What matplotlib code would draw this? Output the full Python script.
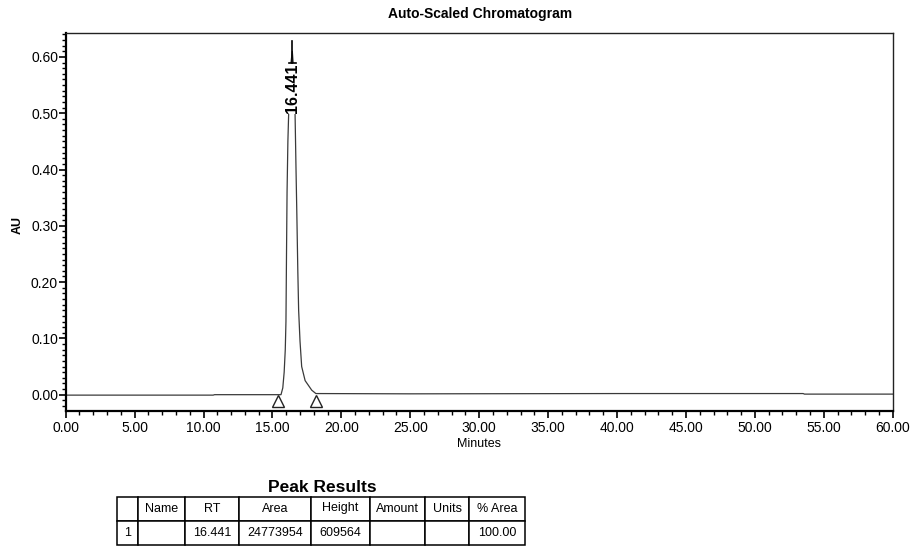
import matplotlib
matplotlib.use("Agg")
import matplotlib.pyplot as plt
from matplotlib.ticker import MultipleLocator, FormatStrFormatter

plt.rcParams['font.family'] = ['Liberation Sans', 'DejaVu Sans']

# ---- data ----
time_min = [0.00, 10.70, 10.80, 15.00, 15.62, 15.75, 15.85, 15.93, 15.98, 16.02,
            16.06, 16.12, 16.20, 16.30, 16.44, 16.56, 16.64, 16.71, 16.77, 16.84,
            16.90, 17.00, 17.12, 17.37, 17.85, 18.15, 25.00, 40.00, 53.50, 53.60, 60.00]
absorb_au = [-0.0008, -0.0008, 0.000, 0.000, 0.000, 0.012, 0.040, 0.080, 0.130, 0.250,
             0.360, 0.450, 0.520, 0.580, 0.610, 0.570, 0.500, 0.400, 0.320, 0.220,
             0.150, 0.095, 0.050, 0.025, 0.008, 0.002, 0.0015, 0.002, 0.002, 0.001, 0.001]

peak_rt = 16.441
peak_label = "16.441"
integ_start = 15.43
integ_end = 18.16
marker_level = -0.0113

x_ticks = [0, 5, 10, 15, 20, 25, 30, 35, 40, 45, 50, 55, 60]
y_ticks = [0.0, 0.1, 0.2, 0.3, 0.4, 0.5, 0.6]

table_headers = ["", "Name", "RT", "Area", "Height", "Amount", "Units", "% Area"]
table_row = ["1", "", "16.441", "24773954", "609564", "", "", "100.00"]
table_col_px = [21, 47, 54, 72, 59, 55, 44, 56]

# ---- figure ----
W, H = 912, 546
fig = plt.figure(figsize=(W / 100, H / 100), dpi=100)
fig.patch.set_facecolor('white')

ax = fig.add_axes([65.7 / W, 1 - 411 / H, 827 / W, (411 - 33.3) / H])
ax.plot(time_min, absorb_au, color='#3a3a3a', lw=0.9, zorder=2)
ax.plot([integ_start, integ_end], [marker_level, marker_level], linestyle='none',
        marker='^', markersize=9, markerfacecolor='white', markeredgecolor='#222222',
        markeredgewidth=1.0, zorder=3)

ax.set_xlim(0, 60)
ax.set_ylim(-0.029, 0.642)
ax.set_xticks(x_ticks)
ax.set_yticks(y_ticks)
ax.xaxis.set_major_formatter(FormatStrFormatter('%.2f'))
ax.yaxis.set_major_formatter(FormatStrFormatter('%.2f'))
ax.xaxis.set_minor_locator(MultipleLocator(1))
ax.yaxis.set_minor_locator(MultipleLocator(0.01))
ax.tick_params(which='major', length=5, width=1.2, labelsize=10, pad=2, colors='black')
ax.tick_params(which='minor', length=3, width=1.0)
ax.tick_params(axis='y', which='major', pad=0.5)
for s in ['left', 'bottom']:
    ax.spines[s].set_linewidth(1.6)
for s in ['top', 'right']:
    ax.spines[s].set_linewidth(1.0)
    ax.spines[s].set_color('#222222')

# peak label with white background masking the top of the peak
txt_bottom = 0.500
ax.text(peak_rt, txt_bottom, peak_label, rotation=90, ha='center', va='bottom',
        fontsize=11.5, fontweight='bold', color='black', zorder=4,
        bbox=dict(facecolor='white', edgecolor='none', pad=0.5))
ax.plot([peak_rt, peak_rt], [0.589, 0.628], color='black', lw=1.2, zorder=4)
ax.plot([peak_rt - 0.25, peak_rt + 0.25], [0.589, 0.589], color='black', lw=1.2, zorder=4)

fig.text(480 / W, 1 - 14 / H, "Auto-Scaled Chromatogram", ha='center', va='center',
         fontsize=10, fontweight='bold')
fig.text(18 / W, 1 - 225 / H, "AU", rotation=90, ha='center', va='center', fontsize=9,
         fontweight='bold')
fig.text(479 / W, 1 - 444 / H, "Minutes", ha='center', va='center', fontsize=9)

# ---- peak results table ----
fig.text(322 / W, 1 - 487 / H, "Peak Results", ha='center', va='center',
         fontsize=12.5, fontweight='bold')
tot = sum(table_col_px)
tax = fig.add_axes([117 / W, 1.5 / H, tot / W, 48 / H])
tax.axis('off')
tbl = tax.table(cellText=[table_row], colLabels=table_headers,
                colWidths=[c / tot for c in table_col_px], cellLoc='center',
                bbox=[0, 0, 1, 1])
tbl.auto_set_font_size(False)
tbl.set_fontsize(9)
for key, cell in tbl.get_celld().items():
    cell.set_edgecolor('black')
    cell.set_linewidth(1.1)
    cell.PAD = 0.03

fig.savefig("out.png", dpi=100, facecolor='white')
